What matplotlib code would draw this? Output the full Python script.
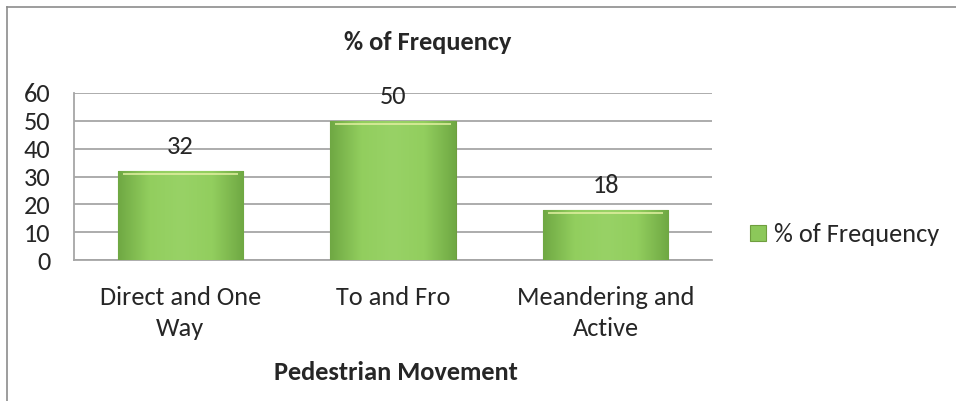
import matplotlib
matplotlib.use('Agg')
import matplotlib.pyplot as plt
import numpy as np
from matplotlib.colors import LinearSegmentedColormap
from matplotlib.patches import Rectangle

plt.rcParams['font.family'] = ['Carlito', 'Lato', 'DejaVu Sans']

# Data
categories = ['Direct and One\nWay', 'To and Fro', 'Meandering and\nActive']
frequency = [32, 50, 18]
y_ticks = [0, 10, 20, 30, 40, 50, 60]
series_name = '% of Frequency'

TEXT = '#262626'
GRID = '#a6a6a6'
FS = 19

fig = plt.figure(figsize=(9.56, 4.01), dpi=100)
fig.patch.set_facecolor('white')
ax = fig.add_axes([0.0774, 0.3516, 0.6674, 0.4165])

x = np.arange(len(categories))
bars = ax.bar(x, frequency, width=0.59, color='#8cc85a', edgecolor='#6f9e3f',
              linewidth=0.8, zorder=3, label=series_name)

# bevelled green look: horizontal gradient clipped to each bar
grad = LinearSegmentedColormap.from_list('g', ['#6fa843', '#92ce5e', '#98d266', '#92ce5e', '#6fa843'])
for b in bars:
    x0, w, h = b.get_x(), b.get_width(), b.get_height()
    im = ax.imshow(np.linspace(0, 1, 256).reshape(1, -1), cmap=grad, aspect='auto',
                   extent=(x0, x0 + w, 0, h), zorder=3.5)
    im.set_clip_path(b)
    ax.add_patch(Rectangle((x0 + w * 0.04, h - 1.5), w * 0.92, 0.7,
                           facecolor='#e0efa0', edgecolor='none', alpha=0.8, zorder=4))
    ax.annotate(str(int(h)), (x0 + w / 2, h), xytext=(0, 12), textcoords='offset points',
                ha='center', va='baseline', fontsize=FS, color=TEXT, zorder=5)

ax.set_xlim(-0.5, len(categories) - 0.5)
ax.set_ylim(0, 60)
ax.set_yticks(y_ticks)
ax.set_xticks(x)
ax.set_xticklabels(categories, linespacing=1.4)
ax.tick_params(axis='y', length=0, pad=17, labelsize=FS, labelcolor=TEXT)
ax.tick_params(axis='x', length=0, pad=19, labelsize=FS, labelcolor=TEXT)
ax.grid(axis='y', color=GRID, linewidth=1.3, zorder=0)
for s in ['top', 'right']:
    ax.spines[s].set_visible(False)
for s in ['left', 'bottom']:
    ax.spines[s].set_color(GRID)
    ax.spines[s].set_linewidth(1.3)

fig.text(428 / 956, 1 - 42 / 401, '% of Frequency', ha='center', va='center',
         fontsize=FS, fontweight='bold', color=TEXT)
fig.text(396 / 956, 1 - 372 / 401, 'Pedestrian Movement', ha='center', va='center',
         fontsize=FS, fontweight='bold', color=TEXT)

leg = fig.legend(handles=[bars], labels=[series_name], loc='center left',
                 bbox_to_anchor=(750 / 956, 1 - 235 / 401), frameon=False, borderpad=0,
                 borderaxespad=0, fontsize=FS, handlelength=0.6, handleheight=0.55,
                 handletextpad=0.3, labelcolor=TEXT)

# outer chart border (top and left visible)
fig.add_artist(plt.Line2D([7 / 956, 7 / 956], [0, 1 - 7 / 401], transform=fig.transFigure,
                          color='#8c8c8c', linewidth=1.2))
fig.add_artist(plt.Line2D([7 / 956, 1], [1 - 7 / 401, 1 - 7 / 401], transform=fig.transFigure,
                          color='#8c8c8c', linewidth=1.2))

fig.savefig('out.png', dpi=100, facecolor='white')
